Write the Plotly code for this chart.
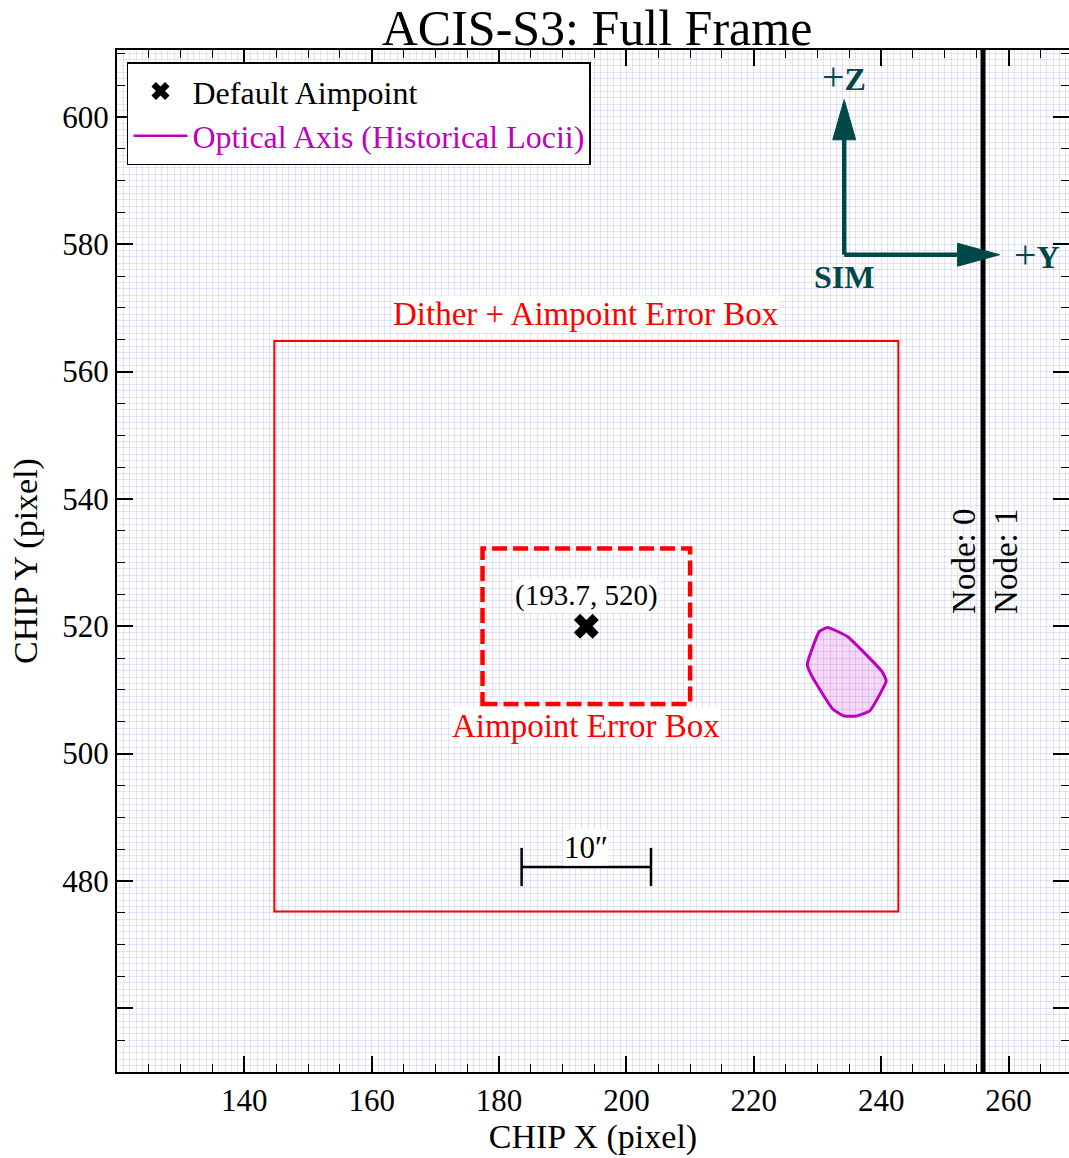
import plotly.graph_objects as go

# ---- data ----
aim_x, aim_y = [193.7], [520.0]
dither_half = [49.0, 44.8]          # half-width (x, y) of dither + aimpoint error box
aimerr_half = [16.3, 12.2]          # half-width (x, y) of aimpoint error box
node_boundary = 256
scale_bar = [183.54, 203.86]        # 10 arcsec bar
scale_bar_y = 482.2
opt_x = [231.6, 234.7, 240.2, 240.8, 240.0, 238.2, 236.1, 234.2, 232.4, 229.1, 228.4, 230.3, 231.6]
opt_y = [519.8, 518.4, 512.8, 511.4, 509.7, 506.7, 505.9, 505.9, 507.0, 512.2, 514.0, 519.2, 519.8]
sim_origin = [234.2, 578.35]
sim_tips = [258.6, 602.7]           # +Y tip x, +Z tip y
x_range = [120, 269.5]
y_range = [450, 610.5]
x_ticks = [140, 160, 180, 200, 220, 240, 260]
y_ticks = [460, 480, 500, 520, 540, 560, 580, 600]
y_ticktext = ["", "480", "500", "520", "540", "560", "580", "600"]

FONT = "Liberation Serif"
RED = "#ff0000"
TEAL = "#004848"
MAG = "#c000c0"

fig = go.Figure()

# optical axis locus
fig.add_trace(go.Scatter(x=opt_x, y=opt_y, mode="lines", fill="toself",
                         fillcolor="rgba(200,0,200,0.15)",
                         line=dict(color=MAG, width=3, shape="spline", smoothing=0.4),
                         showlegend=False, hoverinfo="skip"))
# aimpoint
fig.add_trace(go.Scatter(x=aim_x, y=aim_y, mode="markers",
                         marker=dict(symbol="x", size=22, color="black",
                                     line=dict(width=0)),
                         name="Default Aimpoint"))
fig.add_trace(go.Scatter(x=[None], y=[None], mode="lines",
                         line=dict(color=MAG, width=2.5),
                         name="<span style='color:#c000c0'>Optical Axis (Historical Locii)</span>"))

ax, ay = aim_x[0], aim_y[0]
shapes = []
# dither box
shapes.append(dict(type="rect", xref="x", yref="y",
                   x0=ax - dither_half[0], x1=ax + dither_half[0],
                   y0=ay - dither_half[1], y1=ay + dither_half[1],
                   line=dict(color=RED, width=2)))
# aimpoint error box
shapes.append(dict(type="rect", xref="x", yref="y",
                   x0=ax - aimerr_half[0], x1=ax + aimerr_half[0],
                   y0=ay - aimerr_half[1], y1=ay + aimerr_half[1],
                   line=dict(color=RED, width=4.5, dash="15px,6px")))
# node boundary
shapes.append(dict(type="line", xref="x", yref="paper", x0=node_boundary, x1=node_boundary,
                   y0=0, y1=1, line=dict(color="black", width=5)))
# scale bar
shapes.append(dict(type="line", xref="x", yref="y", x0=scale_bar[0], x1=scale_bar[1],
                   y0=scale_bar_y, y1=scale_bar_y, line=dict(color="black", width=2.5)))
for sx in scale_bar:
    shapes.append(dict(type="line", xref="x", yref="y", x0=sx, x1=sx,
                       y0=scale_bar_y - 3, y1=scale_bar_y + 3, line=dict(color="black", width=2.5)))

# SIM arrows
ox, oy = sim_origin
hl_x, hw_x = 6.6, 1.8   # head length / half-width in x-units (for +Y arrow)
hl_y, hw_y = 6.3, 1.8   # for +Z arrow
shapes.append(dict(type="line", xref="x", yref="y", x0=ox, x1=sim_tips[0] - hl_x, y0=oy, y1=oy,
                   line=dict(color=TEAL, width=4.5)))
shapes.append(dict(type="line", xref="x", yref="y", x0=ox, x1=ox, y0=oy, y1=sim_tips[1] - hl_y,
                   line=dict(color=TEAL, width=4.5)))
tx = sim_tips[0]
shapes.append(dict(type="path", xref="x", yref="y",
                   path=f"M {tx} {oy} L {tx-hl_x} {oy+hw_x} L {tx-hl_x} {oy-hw_x} Z",
                   fillcolor=TEAL, line=dict(color=TEAL, width=1)))
ty = sim_tips[1]
shapes.append(dict(type="path", xref="x", yref="y",
                   path=f"M {ox} {ty} L {ox-hw_y} {ty-hl_y} L {ox+hw_y} {ty-hl_y} Z",
                   fillcolor=TEAL, line=dict(color=TEAL, width=1)))

plus = "<span style='font-size:40px'>+</span>"
annotations = [
    dict(x=ax, y=ay + dither_half[1] + 4.2, text="Dither + Aimpoint Error Box",
         font=dict(color=RED, size=33, family=FONT), bgcolor="white", showarrow=False,
         borderpad=0),
    dict(x=ax, y=ay - aimerr_half[1] - 3.4, text="Aimpoint Error Box",
         font=dict(color=RED, size=33, family=FONT), bgcolor="white", showarrow=False,
         borderpad=0),
    dict(x=ax, y=ay + 4.8, text="(193.7, 520)",
         font=dict(color="black", size=29, family=FONT), bgcolor="white", showarrow=False,
         borderpad=0),
    dict(x=ax, y=scale_bar_y + 3.0, text="10″",
         font=dict(color="black", size=31, family=FONT), bgcolor="white", showarrow=False,
         borderpad=0),
    dict(x=253.1, y=530.2, text="Node: 0", textangle=-90,
         font=dict(color="black", size=33, family=FONT), showarrow=False),
    dict(x=259.7, y=530.2, text="Node: 1", textangle=-90,
         font=dict(color="black", size=33, family=FONT), showarrow=False),
    dict(x=ox, y=606.4, text=plus + "<b>Z</b>", font=dict(color=TEAL, size=32, family=FONT), showarrow=False),
    dict(x=264.4, y=oy, text=plus + "<b>Y</b>", font=dict(color=TEAL, size=32, family=FONT), showarrow=False),
    dict(x=ox, y=574.9, text="<b>SIM</b>", font=dict(color=TEAL, size=32, family=FONT), showarrow=False),
]

axis_common = dict(showline=True, linecolor="black", linewidth=2, mirror="ticks",
                   ticks="inside", ticklen=16, tickwidth=1.5, tickcolor="black",
                   zeroline=False, showgrid=False, automargin=False,
                   tickfont=dict(family=FONT, size=31, color="black"))

fig.update_layout(
    width=1069, height=1158,
    margin=dict(l=117, r=0, t=50, b=86),
    plot_bgcolor="white", paper_bgcolor="white",
    title=dict(text="ACIS-S3: Full Frame", x=0.5585, xanchor="center", y=0.976, yanchor="middle",
               font=dict(family=FONT, size=50, color="black")),
    xaxis=dict(range=x_range, tickmode="array", tickvals=x_ticks,
               title=dict(text="CHIP X (pixel)", font=dict(family=FONT, size=34, color="black"),
                          standoff=4),
               minor=dict(dtick=1, tick0=0, ticks="", showgrid=True,
                          gridcolor="rgba(170,170,235,0.32)", gridwidth=1),
               **axis_common),
    yaxis=dict(range=y_range, tickmode="array", tickvals=y_ticks, ticktext=y_ticktext,
               title=dict(text="CHIP Y (pixel)", font=dict(family=FONT, size=34, color="black"),
                          standoff=14),
               minor=dict(dtick=1, tick0=0, ticks="", showgrid=True,
                          gridcolor="rgba(170,170,235,0.32)", gridwidth=1),
               **axis_common),
    xaxis2=dict(range=x_range, overlaying="x", matches="x", tickmode="linear", tick0=0, dtick=5,
                ticks="inside", ticklen=8, tickwidth=1.2, tickcolor="black", automargin=False,
                showticklabels=False, showgrid=False, zeroline=False, showline=False, mirror="ticks"),
    yaxis2=dict(range=y_range, overlaying="y", matches="y", tickmode="linear", tick0=0, dtick=5,
                ticks="inside", ticklen=8, tickwidth=1.2, tickcolor="black", automargin=False,
                showticklabels=False, showgrid=False, zeroline=False, showline=False, mirror="ticks"),
    legend=dict(x=0.0105, y=0.988, xanchor="left", yanchor="top",
                bgcolor="white", bordercolor="black", borderwidth=1.5,
                font=dict(family=FONT, size=32, color="black"), itemwidth=54,
                tracegroupgap=0),
    shapes=shapes, annotations=annotations,
    showlegend=True,
)
# dummy trace to activate overlay axes
fig.add_trace(go.Scatter(x=[None], y=[None], xaxis="x2", yaxis="y2", showlegend=False))

fig.write_html("out.html", config={"displayModeBar": False},
               post_script="document.body.style.margin='0';document.body.style.overflow='hidden';")
